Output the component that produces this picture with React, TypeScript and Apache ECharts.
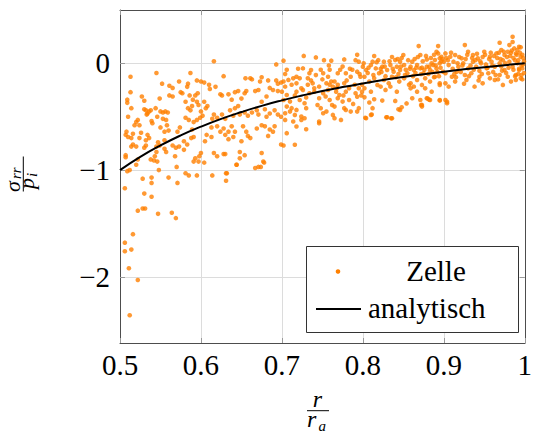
import React, { useEffect, useRef } from "react";
import * as echarts from "echarts";

// x: r / r_a, y: sigma_rr / p_i
const zelleA: number[][] = [
  [.513,-.125],[.545,-.09],[.587,-.09],[.552,-.19],[.513,-.27],[.561,-.21],[.565,-.23],[.573,-.17],[.584,-.19],[.583,-.22],[.595,-.16],
  [.509,-.34],[.509,-.37],[.527,-.31],[.530,-.35],[.549,-.33],[.561,-.30],[.565,-.31],[.575,-.27],[.577,-.28],[.586,-.30],[.590,-.34],[.593,-.30],[.596,-.28],
  [.514,-.42],[.530,-.43],[.532,-.44],[.534,-.47],[.536,-.45],[.533,-.48],[.538,-.44],[.544,-.42],[.546,-.50],[.550,-.45],[.553,-.46],[.556,-.45],[.559,-.46],[.553,-.52],[.557,-.53],
  [.581,-.36],[.584,-.42],[.587,-.44],[.589,-.40],[.595,-.36],[.597,-.39],[.510,-.50],
  [.581,-.51],[.585,-.53],[.591,-.55],[.595,-.53],[.599,-.51],
  [.520,-.55],[.522,-.53],[.518,-.58],[.524,-.58],[.540,-.56],[.539,-.54],[.550,-.60],[.558,-.58],[.560,-.63],[.555,-.64],[.571,-.64],[.574,-.60],[.589,-.62],[.591,-.69],[.588,-.70],
  [.508,-.64],[.507,-.67],[.510,-.69],[.516,-.66],[.514,-.70],[.526,-.65],[.524,-.70],[.534,-.67],[.536,-.70],[.532,-.72],[.555,-.72],[.547,-.74],[.549,-.77],[.545,-.78],
  [.516,-.76],[.514,-.78],[.520,-.78],[.565,-.77],[.569,-.79],[.573,-.78],[.579,-.73],[.583,-.76],[.579,-.81],[.532,-.77],[.530,-.79],[.555,-.80],[.557,-.83],
  [.507,-.86],[.507,-.88],[.545,-.83],[.543,-.87],[.538,-.90],[.542,-.91],[.546,-.92],[.522,-.90],[.520,-.95],[.568,-.87],[.570,-.97],[.593,-.89],[.597,-.92],[.591,-.92],
  [.512,-1.0],[.509,-1.01],[.548,-1.0],[.581,-1.03],[.585,-1.05],[.595,-1.05],
  [.528,-1.08],[.539,-1.07],[.539,-1.12],[.560,-1.07],[.571,-1.12],[.506,-1.17],[.530,-1.22],[.539,-1.25],[.522,-1.38],[.528,-1.36],[.531,-1.36],[.547,-1.41],[.564,-1.40],[.569,-1.45],
  [.516,-1.60],[.506,-1.68],[.506,-1.76],[.514,-1.745],[.511,-1.92],[.522,-2.03],[.512,-2.36]
];

const zelleB: number[][] = [
  [.616,.02],[.628,-.12],[.600,-.17],[.604,-.18],[.610,-.20],[.618,-.22],[.611,-.24],
  [.693,-.01],[.693,-.16],[.699,-.18],[.695,-.19],
  [.655,-.14],[.661,-.14],[.663,-.15],[.675,-.13],[.683,-.16],[.673,-.17],
  [.685,-.23],[.689,-.25],[.695,-.26],
  [.624,-.29],[.626,-.30],[.634,-.29],[.642,-.27],[.646,-.26],[.638,-.34],[.650,-.33],[.654,-.28],[.656,-.26],[.667,-.26],[.671,-.25],[.675,-.36],[.681,-.31],[.646,-.40],[.642,-.42],
  [.604,-.36],[.606,-.42],[.600,-.45],[.602,-.49],[.608,-.40],
  [.616,-.48],[.614,-.52],[.620,-.51],[.626,-.48],[.630,-.52],
  [.636,-.44],[.640,-.49],[.648,-.48],[.654,-.46],[.658,-.49],[.663,-.46],[.669,-.44],[.671,-.48],[.679,-.43],[.681,-.50],[.685,-.47],[.691,-.44],[.695,-.48],[.699,-.50],
  [.613,-.60],[.620,-.59],[.624,-.64],[.628,-.61],[.630,-.67],[.634,-.64],[.638,-.59],[.642,-.64],[.652,-.59],[.656,-.64],[.658,-.68],[.669,-.61],[.675,-.58],[.679,-.59],[.685,-.62],[.691,-.59],[.689,-.64],[.683,-.68],
  [.607,-.67],[.605,-.73],[.613,-.69],[.634,-.71],[.640,-.69],[.661,-.70],[.650,-.73],[.699,-.76],
  [.616,-.84],[.620,-.87],[.628,-.85],[.630,-.85],[.648,-.83],[.648,-.89],[.654,-.86],[.675,-.84],[.677,-.92],[.671,-.97],[.667,-.98],
  [.600,-.84],[.598,-.87],[.604,-.93],[.644,-.95],[.614,-1.05],[.632,-1.03],[.631,-1.10],[.674,-.97],[.678,-.93],
  [.631,-1.03],[.644,-.95]
];

const zelleC: number[][] = [
  [.727,.07],[.742,.056],[.702,.025],[.793,.08],[.791,.03],[.795,.016],[.752,.03],[.761,.025],[.777,.037],
  [.706,-.06],[.726,-.047],[.736,-.062],[.748,-.06],[.759,-.06],[.775,-.03],[.787,-.06],
  [.702,-.17],[.708,-.155],[.714,-.14],[.718,-.125],[.722,-.14],[.732,-.14],[.734,-.093],[.742,-.11],[.751,-.093],[.757,-.125],[.761,-.17],[.765,-.17],[.769,-.093],[.779,-.093],[.785,-.125],[.793,-.078],[.797,-.125],
  [.704,-.218],[.712,-.2],[.718,-.187],[.724,-.234],[.732,-.2],[.738,-.187],[.74,-.234],[.746,-.218],[.755,-.187],[.759,-.2],[.763,-.218],[.769,-.2],[.777,-.187],[.783,-.234],[.795,-.234],[.799,-.2],
  [.7,-.265],[.706,-.296],[.718,-.265],[.726,-.249],[.734,-.28],[.74,-.265],[.751,-.28],[.757,-.249],[.767,-.265],[.771,-.296],[.779,-.265],[.791,-.28],[.799,-.265],
  [.702,-.343],[.71,-.358],[.722,-.343],[.728,-.374],[.746,-.327],[.759,-.343],[.769,-.327],[.775,-.358],[.783,-.343],[.793,-.312],
  [.706,-.405],[.712,-.42],[.718,-.436],[.73,-.42],[.748,-.42],[.755,-.452],[.765,-.405],[.777,-.42],[.779,-.436],[.795,-.42],
  [.704,-.467],[.71,-.452],[.716,-.483],[.724,-.498],[.728,-.514],[.751,-.467],[.763,-.483],[.773,-.53],[.785,-.452],[.793,-.452],
  [.704,-.53],[.714,-.545],[.724,-.53],[.746,-.545],[.765,-.514],
  [.718,-.592],[.73,-.617],[.746,-.561],[.706,-.654],[.716,-.763],[.702,-.77],
  [.704,-.1],[.716,-.3],[.72,-.05],[.73,-.32],[.736,-.16],[.744,-.39],[.75,-.15],[.754,-.31],[.758,-.02],[.762,-.39],[.768,-.23],[.772,-.06],[.776,-.3],[.78,-.16],[.784,-.05],[.788,-.38],[.79,-.2],[.796,-.1],[.798,-.3]
];

const zelleD: number[][] = [
  [.869,.162],[.893,.162],[.891,.109],[.814,.069],[.85,.078],[.871,.078],
  [.812,.016],[.826,.016],[.84,.031],[.846,.016],[.861,.016],[.879,.037],[.889,.031],[.895,.047],
  [.8,-.031],[.804,-.062],[.81,-.016],[.816,-.047],[.82,-.093],[.824,-.031],[.83,-.062],[.834,-.016],[.838,-.078],[.842,-.031],[.846,-.062],[.851,-.016],[.855,-.093],[.859,-.031],[.863,-.062],[.867,-.016],[.871,-.047],[.875,-.093],[.879,-.031],[.883,-.062],[.887,-.016],[.891,-.047],[.895,0],[.899,-.078],[.893,.093],[.897,.062],
  [.802,-.125],[.808,-.171],[.814,-.14],[.818,-.202],[.826,-.156],[.832,-.187],[.836,-.125],[.845,-.171],[.851,-.14],[.859,-.187],[.863,-.218],[.867,-.156],[.873,-.202],[.877,-.14],[.883,-.171],[.889,-.125],[.895,-.187],
  [.802,-.234],[.81,-.265],[.822,-.218],[.828,-.249],[.834,-.218],[.842,-.265],[.859,-.234],[.867,-.265],[.877,-.234],[.885,-.265],[.895,-.202],
  [.802,-.318],[.814,-.336],[.808,-.367],[.824,-.349],[.84,-.352],[.848,-.411],[.861,-.327],[.871,-.343],[.873,-.389],[.879,-.327],[.883,-.343],[.895,-.349],
  [.812,-.42],[.844,-.43],[.83,-.505],[.836,-.514],[.804,-.514],[.81,-.483],
  [.803,-.51],[.811,-.48],[.829,-.505],[.835,-.514],[.854,-.375],[.872,-.39],[.873,-.405],[.880,-.33],[.882,-.34],[.846,-.437],
  [.806,-.09],[.822,-.05],[.828,-.12],[.844,-.1],[.853,-.06],[.857,-.2],[.865,-.09],[.873,-.04],[.881,-.1],[.885,0],[.888,-.13],[.892,-.08],[.897,.02],[.848,.05],[.836,.06],[.819,.03],
  [.801,0],[.807,-.04],[.813,-.11],[.817,.01],[.823,-.08],[.827,-.03],[.833,.02],[.837,-.05],[.841,-.13],[.843,.04],[.847,-.03],[.852,-.11],[.856,.03],[.858,-.05],[.862,-.12],[.864,.04],[.866,-.04],[.868,.06],[.872,-.1],[.874,.02],[.876,-.06],[.878,.07],[.882,-.03],[.884,.05],[.886,-.08],[.888,.08],[.89,-.02],[.894,-.12],[.896,-.04],[.898,.04]
];

const zelleE: number[][] = [
  [.985,.249],[.985,.2],[.969,.193],[.926,.171],[.993,.156],[.987,.14],[.981,.171],
  [.902,.093],[.908,.062],[.914,.078],[.922,.047],[.93,.109],[.936,.078],[.942,.047],[.95,.109],[.957,.062],[.965,.093],[.971,.125],[.975,.078],[.979,.109],[.989,.093],[.995,.062],[.991,.125],
  [.9,.016],[.906,-.016],[.912,.016],[.918,-.031],[.924,0],[.93,-.047],[.936,.016],[.94,-.031],[.946,0],[.953,-.047],[.959,.016],[.963,-.031],[.969,0],[.975,-.062],[.981,.016],[.985,-.031],[.991,0],[.997,-.047],
  [.902,-.093],[.91,-.125],[.916,-.078],[.926,-.109],[.934,-.093],[.944,-.125],[.955,-.093],[.963,-.156],[.969,-.109],[.979,-.125],[.989,-.109],[.993,-.062],
  [.902,-.187],[.906,-.218],[.914,-.171],[.928,-.156],[.938,-.218],[.948,-.187],[.973,-.202],[.983,-.171],[.989,-.156],[.995,-.14],
  [.902,-.343],[.904,-.374],[.895,-.343],[.904,-.36],
  [.905,.03],[.911,-.05],[.917,0],[.921,-.08],[.927,.04],[.933,-.02],[.939,.03],[.944,-.07],[.948,.06],[.952,-.01],[.956,.04],[.961,-.08],[.966,.05],[.971,-.03],[.973,.03],[.977,-.09],[.982,.07],[.986,-.06],[.988,.03],[.992,-.1],[.994,.1],[.996,-.02],[.998,.05],[.999,-.09],[.997,-.15],[.983,.1],[.967,-.15],[.957,-.14],[.943,-.16],[.925,-.19],[.915,-.13],
  [.903,.05],[.909,.1],[.913,-.1],[.919,.06],[.923,-.02],[.929,.08],[.931,-.12],[.935,.05],[.937,-.06],[.941,.09],[.945,.02],[.947,-.1],[.951,.08],[.954,-.04],[.958,.1],[.96,-.02],[.962,.07],[.964,-.11],[.968,.1],[.97,.04],[.972,-.07],[.974,.11],[.976,0],[.978,.06],[.98,-.04],[.984,.12],[.986,.05],[.988,-.12],[.99,.08],[.992,.03],[.993,-.05],[.995,.15],[.997,.08],[.998,-.01],[.999,.02],[.996,-.11]
];

const analyticR = [0.5, 0.525, 0.55, 0.575, 0.6, 0.625, 0.65, 0.675, 0.7, 0.725, 0.75, 0.775, 0.8, 0.825, 0.85, 0.875, 0.9, 0.925, 0.95, 0.975, 1.0];
const analyticSigma = [-1.0, -0.876, -0.769, -0.675, -0.593, -0.52, -0.456, -0.398, -0.347, -0.301, -0.259, -0.222, -0.188, -0.156, -0.128, -0.102, -0.078, -0.056, -0.036, -0.017, 0];

const yTicks = [-2, -1, 0];
const legendNames = ["Zelle", "analytisch"];

const FONT = "serif";
const ORANGE = "#ff8000";

export default function App() {
  const ref = useRef<HTMLDivElement>(null);
  useEffect(() => {
    if (!ref.current) return;
    const chart = echarts.init(ref.current, undefined, { renderer: "svg" });
    const zelle = [...zelleA, ...zelleB, ...zelleC, ...zelleD, ...zelleE];
    const analytic = analyticR.map((r, i) => [r, analyticSigma[i]]);
    const fmtX = (v: number) => (Math.abs(v - 1) < 1e-9 ? "1" : v.toFixed(1));
    const fmtY = (v: number) => {
      const k = Math.round(v);
      if (Math.abs(v - k) > 1e-6 || yTicks.indexOf(k) < 0) return "";
      return k < 0 ? "\u2212" + Math.abs(k) : String(k);
    };
    const axisLine = { show: true, onZero: false, lineStyle: { color: "#4d4d4d", width: 1 } };
    const tick = { show: true, inside: true, length: 5, lineStyle: { color: "#9a9a9a", width: 1 } };
    const split = { show: true, lineStyle: { color: "#dcdcdc", width: 1 } };
    const txt = (text: string, x: number, y: number, fontSize: number, align: string, italic = true) => ({
      type: "text", x, y,
      style: { text, fontFamily: FONT, fontStyle: italic ? "italic" : "normal", fontSize, fill: "#000", textAlign: align, textVerticalAlign: "middle", verticalAlign: "middle" },
    });
    chart.setOption({
      animation: false,
      grid: { left: 120, right: 5, top: 10, bottom: 91 },
      xAxis: [
        {
          type: "value", min: 0.5, max: 1, interval: 0.1, position: "bottom",
          axisLine, axisTick: tick, splitLine: split,
          axisLabel: { fontFamily: FONT, fontSize: 29, color: "#000", margin: 7, formatter: fmtX },
        },
        {
          type: "value", min: 0.5, max: 1, interval: 0.1, position: "top",
          axisLine, axisTick: tick, splitLine: { show: false }, axisLabel: { show: false },
        },
      ],
      yAxis: [
        {
          type: "value", min: -2.62, max: 0.5, position: "left",
          axisLine, axisTick: { ...tick, customValues: yTicks }, splitLine: split,
          axisLabel: { fontFamily: FONT, fontSize: 29, color: "#000", margin: 10, formatter: fmtY },
        },
        {
          type: "value", min: -2.62, max: 0.5, position: "right",
          axisLine, axisTick: { ...tick, customValues: yTicks }, splitLine: { show: false }, axisLabel: { show: false },
        },
      ],
      series: [
        {
          name: legendNames[0], type: "scatter", data: zelle, symbolSize: 4.6,
          itemStyle: { color: ORANGE }, xAxisIndex: 0, yAxisIndex: 0,
        },
        {
          name: legendNames[1], type: "line", data: analytic, smooth: true, showSymbol: false,
          lineStyle: { color: "#000", width: 2 }, xAxisIndex: 0, yAxisIndex: 0,
        },
      ],
      graphic: [
        // legend box
        { type: "rect", z: 100, shape: { x: 306.5, y: 246.5, width: 212, height: 86 }, style: { fill: "#fff", stroke: "#333", lineWidth: 1 } },
        { type: "circle", z: 101, shape: { cx: 338, cy: 271.5, r: 2.3 }, style: { fill: ORANGE } },
        { ...txt(legendNames[0], 436, 270.5, 29, "center", false), z: 101 },
        { type: "line", z: 101, shape: { x1: 316, y1: 309, x2: 361, y2: 309 }, style: { stroke: "#000", lineWidth: 2 } },
        { ...txt(legendNames[1], 368, 307.5, 29, "left", false), z: 101 },
        // x axis label r / r_a
        {
          type: "group", x: 318, y: 410.7,
          children: [
            txt("r", -0.5, -12, 24, "center"),
            { type: "line", shape: { x1: -11, y1: 0, x2: 11, y2: 0 }, style: { stroke: "#000", lineWidth: 1 } },
            txt("r", -11, 7.9, 24, "left"),
            txt("a", 0.5, 15.4, 15, "left"),
          ],
        },
        // y axis label sigma_rr / p_i (rotated, reads bottom to top)
        {
          type: "group", x: 23.3, y: 174, rotation: Math.PI / 2,
          children: [
            txt("σ", -18, -10.5, 22, "left"),
            txt("rr", -5, -7, 15, "left"),
            { type: "line", shape: { x1: -17.5, y1: 0, x2: 17.5, y2: 0 }, style: { stroke: "#000", lineWidth: 1 } },
            txt("p", -15, 3, 22, "left"),
            txt("i", -3, 9, 15, "left"),
          ],
        },
      ],
    });
    return () => chart.dispose();
  }, []);
  return <div ref={ref} style={{ position: "absolute", left: 0, top: 0, width: 535, height: 434 }} />;
}
